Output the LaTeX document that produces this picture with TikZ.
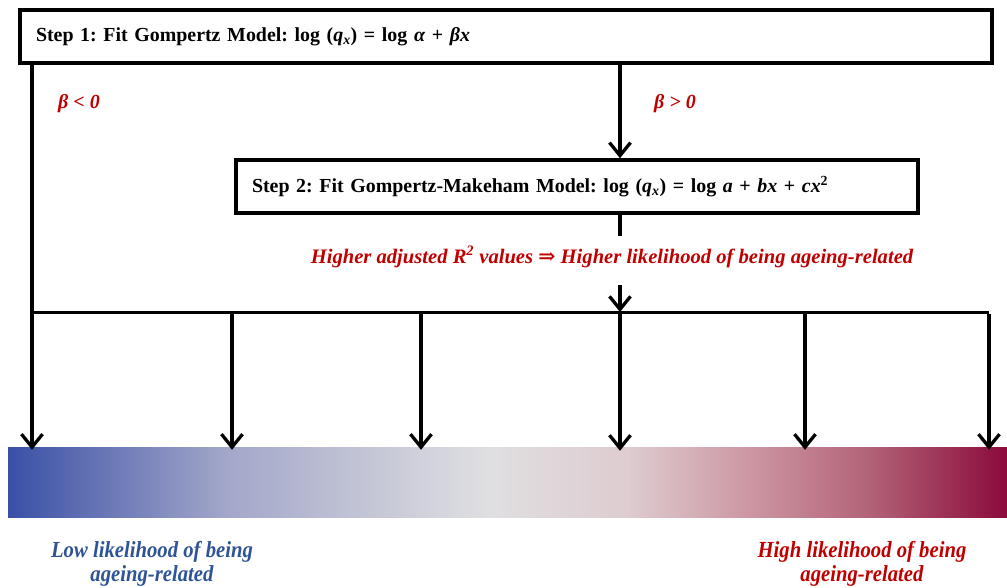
\documentclass[tikz,border=0pt]{standalone}
\usepackage{fontspec}
\setmainfont{Liberation Serif}
\newfontfamily\arrfont{DejaVu Serif}
\usetikzlibrary{arrows.meta}
\definecolor{redtxt}{RGB}{192,0,0}
\definecolor{bluetxt}{RGB}{47,84,150}
\pgfdeclarehorizontalshading{likeli}{100bp}{%
  rgb(0bp)=(0.227,0.314,0.651);
  rgb(25bp)=(0.227,0.314,0.651);
  rgb(36bp)=(0.640,0.655,0.790);
  rgb(49bp)=(0.875,0.875,0.882);
  rgb(56bp)=(0.870,0.800,0.815);
  rgb(63bp)=(0.790,0.560,0.610);
  rgb(68bp)=(0.700,0.390,0.470);
  rgb(75bp)=(0.545,0.040,0.235);
  rgb(100bp)=(0.545,0.040,0.235)}
\frenchspacing
\begin{document}
\begin{tikzpicture}[x=1pt,y=-1pt,
  box/.style={draw, line width=3.5pt, minimum height=53pt, inner xsep=16pt,
    align=left, font=\fontsize{19.9}{22}\selectfont\bfseries},
  conn/.style={line width=3.5pt},
  arr/.style={line width=3.3pt, -{Straight Barb[length=13pt,width=21pt,line width=3.3pt]}},
  redlbl/.style={text=redtxt, font=\fontsize{20}{22}\selectfont\bfseries\itshape},
  bottomlbl/.style={align=center, font=\fontsize{23}{24}\selectfont\bfseries\itshape}]
\useasboundingbox (0,0) rectangle (1007,587);

% boxes
\node[box, text width=940pt] (s1) at (506,36.5)
  {Step 1: Fit Gompertz Model: log (\textit{q}\textsubscript{\textit{x}}) = log \textit{α} + \textit{βx}};
\node[box, text width=650pt] (s2) at (577,186.5)
  {Step 2: Fit Gompertz-Makeham Model: log (\textit{q}\textsubscript{\textit{x}}) = log \textit{a} + \textit{bx} + \textit{cx}\textsuperscript{2}};

% gradient bar
\node[shading=likeli, minimum width=999pt, minimum height=70pt, inner sep=0pt] (bar) at (507.5,482) {};

% coordinates
\coordinate (L) at (32,312);
\coordinate (R) at (989,312);
\coordinate (M) at (620,312);
\coordinate (m2) at (620,236);
\coordinate (m3) at (620,285);
\coordinate (d1) at (232,314);
\coordinate (d2) at (421,314);
\coordinate (d4) at (805,314);
\coordinate (d5) at (989,314);

% connectors
\draw[arr] (s1.south -| L) -- ([yshift=-3pt]bar.north -| L);
\draw[line width=3pt] (L) -- (R);
\draw[arr] (s1.south -| M) -- (s2.north -| M);
\draw[conn] (s2.south -| M) -- (m2);
\draw[arr] (m3) -- (M);
\draw[arr] (M) -- ([yshift=-4pt]bar.north -| M);
\foreach \d in {d1,d2,d4,d5}
  \draw[arr] (\d) -- ([yshift=-3pt]bar.north -| \d);

% labels
\node[redlbl] (bneg) at (79,104) {β < 0};
\node[redlbl] (bpos) at (675,104) {β > 0};
\node[redlbl, font=\fontsize{20.6}{22}\selectfont\bfseries\itshape] (rsq) at (612,257)
  {Higher adjusted \textit{R}\textsuperscript{2} values {\arrfont\bfseries ⇒} Higher likelihood of being ageing-related};
\node[bottomlbl, text=bluetxt] (low) at (152,564)
  {\scalebox{0.9}[1]{Low likelihood of being}\\\scalebox{0.9}[1]{ageing-related}};
\node[bottomlbl, text=redtxt] (high) at (862,564)
  {\scalebox{0.9}[1]{High likelihood of being}\\\scalebox{0.9}[1]{ageing-related}};
\end{tikzpicture}
\end{document}
